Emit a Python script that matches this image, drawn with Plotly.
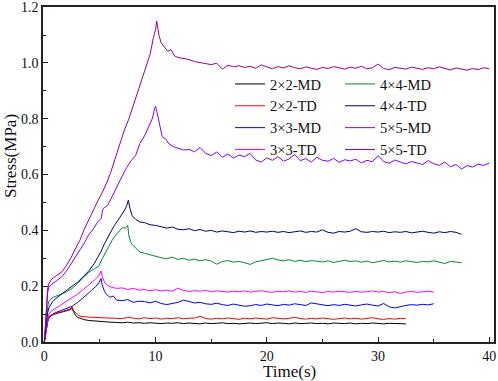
import plotly.graph_objects as go

# ---------------- data ----------------
TAIL_T = [6.5, 7.0, 7.5, 8.0, 8.5, 9.0, 9.5, 10.0, 10.5, 11.0,
          11.5, 12.0, 12.5, 13.0, 13.5, 14.0, 14.5, 15.0, 15.5, 16.0,
          16.5, 17.0, 17.5, 18.0, 18.5, 19.0, 19.5, 20.0, 20.5, 21.0,
          21.5, 22.0, 22.5, 23.0, 23.5, 24.0, 24.5, 25.0, 25.5, 26.0,
          26.5, 27.0, 27.5, 28.0, 28.5, 29.0, 29.5, 30.0, 30.5, 31.0,
          31.5, 32.0, 32.5, 33.0, 33.5, 34.0, 34.5, 35.0, 35.5, 36.0,
          36.5, 37.0, 37.5, 38.0, 38.5, 39.0, 39.5, 40.0]

# 2x2 samples
RISE_T_2 = [0.0, 0.1, 0.2, 0.3, 0.4, 0.6, 0.8, 1.0, 1.3, 1.6,
            1.9, 2.2, 2.4, 2.5, 2.6, 2.8, 3.0, 3.3, 3.6, 4.0,
            4.5, 5.0, 5.5, 6.0]
RISE_2MD = [0.0, 0.03, 0.055, 0.075, 0.088, 0.095, 0.099, 0.101, 0.104, 0.106,
            0.110, 0.114, 0.117, 0.122, 0.110, 0.096, 0.088, 0.083, 0.080, 0.077,
            0.075, 0.073, 0.072, 0.071]
TAIL_2MD = [0.070, 0.069, 0.071, 0.068, 0.069, 0.067, 0.069, 0.068, 0.066, 0.068,
            0.067, 0.069, 0.066, 0.068, 0.067, 0.065, 0.068, 0.066, 0.067, 0.069,
            0.066, 0.067, 0.065, 0.067, 0.068, 0.066, 0.067, 0.069, 0.066, 0.068,
            0.067, 0.065, 0.068, 0.066, 0.067, 0.068, 0.066, 0.067, 0.065, 0.068,
            0.067, 0.066, 0.068, 0.065, 0.067, 0.066, 0.068, 0.066, 0.065, 0.067,
            0.066, 0.067, 0.065]
RISE_2TD = [0.0, 0.035, 0.06, 0.078, 0.09, 0.097, 0.100, 0.103, 0.106, 0.109,
            0.113, 0.117, 0.120, 0.126, 0.115, 0.104, 0.097, 0.092, 0.090, 0.089,
            0.088, 0.087, 0.086, 0.087]
TAIL_2TD = [0.086, 0.084, 0.088, 0.085, 0.083, 0.087, 0.084, 0.086, 0.082, 0.085,
            0.084, 0.087, 0.083, 0.085, 0.086, 0.092, 0.084, 0.082, 0.085, 0.083,
            0.086, 0.084, 0.081, 0.085, 0.083, 0.086, 0.084, 0.082, 0.087, 0.084,
            0.083, 0.085, 0.088, 0.084, 0.082, 0.085, 0.083, 0.086, 0.084, 0.081,
            0.084, 0.086, 0.083, 0.085, 0.082, 0.084, 0.087, 0.083, 0.081, 0.084,
            0.082, 0.085, 0.083]

# 3x3 samples
RISE_T_3 = [0.0, 0.1, 0.2, 0.3, 0.4, 0.6, 0.8, 1.0, 1.3, 1.6,
            2.0, 2.5, 3.0, 3.5, 4.0, 4.3, 4.6, 4.9, 5.1, 5.2,
            5.4, 5.6, 5.9, 6.2, 6.5, 7.0, 7.5, 8.0, 8.5]
RISE_3MD = [0.0, 0.03, 0.055, 0.072, 0.085, 0.095, 0.101, 0.105, 0.110, 0.114,
            0.120, 0.128, 0.142, 0.158, 0.176, 0.188, 0.198, 0.212, 0.228, 0.205,
            0.182, 0.170, 0.160, 0.165, 0.150, 0.148, 0.152, 0.142, 0.146]
TAIL_3MD = [0.145, 0.140, 0.146, 0.138, 0.134, 0.138, 0.142, 0.150, 0.146, 0.140,
            0.142, 0.137, 0.135, 0.139, 0.134, 0.131, 0.136, 0.133, 0.128, 0.130,
            0.134, 0.131, 0.136, 0.133, 0.130, 0.135, 0.132, 0.137, 0.134, 0.131,
            0.140, 0.136, 0.133, 0.130, 0.134, 0.131, 0.135, 0.132, 0.129, 0.133,
            0.136, 0.132, 0.129, 0.138, 0.126, 0.122, 0.127, 0.131, 0.134, 0.132,
            0.135, 0.133, 0.137]
RISE_3TD = [0.0, 0.03, 0.06, 0.085, 0.100, 0.110, 0.116, 0.121, 0.128, 0.136,
            0.146, 0.158, 0.172, 0.188, 0.205, 0.212, 0.225, 0.238, 0.255, 0.235,
            0.215, 0.205, 0.198, 0.195, 0.192, 0.194, 0.188, 0.192, 0.186]
TAIL_3TD = [0.188, 0.184, 0.187, 0.183, 0.186, 0.182, 0.193, 0.185, 0.181, 0.184,
            0.182, 0.185, 0.180, 0.183, 0.181, 0.179, 0.182, 0.180, 0.183, 0.179,
            0.181, 0.184, 0.180, 0.178, 0.182, 0.180, 0.183, 0.179, 0.181, 0.178,
            0.182, 0.180, 0.177, 0.181, 0.179, 0.182, 0.180, 0.178, 0.181, 0.179,
            0.180, 0.183, 0.179, 0.181, 0.177, 0.180, 0.174, 0.179, 0.181, 0.178,
            0.180, 0.182, 0.179]

# 4x4 samples
RISE_T_4MD = [0.0, 0.1, 0.2, 0.3, 0.4, 0.6, 0.8, 1.0, 1.5, 2.0,
              2.5, 3.0, 3.5, 4.0, 4.5, 4.9, 5.2, 5.5, 5.8, 6.1,
              6.4, 6.7, 7.0, 7.3, 7.5, 7.6, 7.8, 8.0, 8.3, 8.6,
              9.0, 9.5]
RISE_4MD = [0.0, 0.05, 0.095, 0.125, 0.145, 0.155, 0.160, 0.163, 0.172, 0.180,
            0.192, 0.210, 0.232, 0.250, 0.262, 0.272, 0.298, 0.322, 0.345, 0.365,
            0.382, 0.395, 0.410, 0.408, 0.418, 0.380, 0.355, 0.345, 0.332, 0.322,
            0.318, 0.312]
TAIL_4MD = [0.308, 0.302, 0.298, 0.304, 0.296, 0.300, 0.293, 0.297, 0.291, 0.295,
            0.290, 0.279, 0.288, 0.292, 0.286, 0.289, 0.284, 0.278, 0.287, 0.291,
            0.296, 0.300, 0.294, 0.291, 0.295, 0.289, 0.293, 0.288, 0.292, 0.290,
            0.287, 0.291, 0.285, 0.289, 0.293, 0.288, 0.291, 0.286, 0.290, 0.284,
            0.289, 0.292, 0.287, 0.290, 0.286, 0.291, 0.288, 0.285, 0.289, 0.287,
            0.291, 0.286, 0.281, 0.289, 0.287, 0.284]
RISE_T_4TD = [0.0, 0.1, 0.2, 0.3, 0.4, 0.6, 0.8, 1.0, 1.5, 2.0,
              2.5, 3.0, 3.5, 4.0, 4.5, 4.8, 5.1, 5.4, 5.7, 6.0,
              6.3, 6.6, 6.9, 7.2, 7.4, 7.55, 7.7, 7.9, 8.2, 8.6,
              9.0, 9.5]
RISE_4TD = [0.0, 0.04, 0.08, 0.105, 0.122, 0.138, 0.148, 0.155, 0.170, 0.185,
            0.200, 0.215, 0.234, 0.255, 0.282, 0.302, 0.325, 0.352, 0.375, 0.398,
            0.418, 0.435, 0.452, 0.472, 0.488, 0.508, 0.478, 0.452, 0.440, 0.430,
            0.428, 0.420]
TAIL_4TD = [0.418, 0.412, 0.408, 0.412, 0.404, 0.402, 0.406, 0.399, 0.403, 0.397,
            0.400, 0.394, 0.398, 0.395, 0.392, 0.397, 0.394, 0.398, 0.393, 0.396,
            0.394, 0.397, 0.393, 0.396, 0.392, 0.395, 0.398, 0.393, 0.396, 0.394,
            0.402, 0.393, 0.390, 0.396, 0.394, 0.397, 0.406, 0.395, 0.393, 0.396,
            0.394, 0.397, 0.392, 0.395, 0.393, 0.396, 0.391, 0.394, 0.397, 0.393,
            0.390, 0.395, 0.392, 0.396, 0.393, 0.386]

# 5x5 samples
RISE_T_5MD = [0.0, 0.1, 0.2, 0.3, 0.4, 0.6, 0.8, 1.0, 1.3, 1.6,
              2.0, 2.4, 2.8, 3.2, 3.6, 4.0, 4.4, 4.8, 5.1, 5.25,
              5.4, 5.7, 6.0, 6.3, 6.6, 7.0, 7.4, 7.8, 8.2, 8.6,
              9.0, 9.4, 9.7, 9.9, 10.0, 10.2, 10.4, 10.6, 10.9, 11.2,
              11.6, 12.0, 12.5]
RISE_5MD = [0.0, 0.07, 0.14, 0.178, 0.195, 0.205, 0.212, 0.216, 0.224, 0.235,
            0.255, 0.280, 0.305, 0.330, 0.355, 0.385, 0.405, 0.430, 0.442, 0.475,
            0.482, 0.490, 0.515, 0.535, 0.565, 0.595, 0.625, 0.650, 0.668, 0.712,
            0.738, 0.770, 0.800, 0.835, 0.845, 0.810, 0.772, 0.735, 0.728, 0.710,
            0.700, 0.695, 0.688]
TAIL_5MD = [0.690, 0.682, 0.697, 0.676, 0.668, 0.681, 0.662, 0.674, 0.659, 0.670,
            0.664, 0.676, 0.652, 0.645, 0.660, 0.651, 0.664, 0.648, 0.656, 0.672,
            0.650, 0.657, 0.645, 0.662, 0.651, 0.648, 0.658, 0.644, 0.653, 0.649,
            0.655, 0.642, 0.651, 0.646, 0.668, 0.647, 0.641, 0.652, 0.645, 0.638,
            0.647, 0.641, 0.636, 0.650, 0.639, 0.633, 0.645, 0.628, 0.636, 0.620,
            0.632, 0.627, 0.637, 0.633, 0.641]
RISE_T_5TD = [0.0, 0.1, 0.2, 0.3, 0.4, 0.6, 0.8, 1.0, 1.3, 1.6,
              2.0, 2.4, 2.8, 3.2, 3.6, 4.0, 4.4, 4.8, 5.2, 5.6,
              6.0, 6.4, 6.8, 7.2, 7.6, 8.0, 8.4, 8.8, 9.2, 9.5,
              9.8, 10.0, 10.1, 10.3, 10.5, 10.8, 11.1, 11.4, 11.7, 12.0,
              12.5]
RISE_5TD = [0.0, 0.08, 0.15, 0.19, 0.208, 0.222, 0.230, 0.236, 0.242, 0.252,
            0.275, 0.302, 0.335, 0.365, 0.405, 0.440, 0.475, 0.505, 0.535, 0.570,
            0.612, 0.660, 0.715, 0.760, 0.800, 0.850, 0.895, 0.945, 0.995, 1.030,
            1.090, 1.120, 1.150, 1.100, 1.072, 1.055, 1.042, 1.048, 1.025, 1.020,
            1.016]
TAIL_5TD = [1.012, 1.005, 1.002, 0.998, 0.994, 0.999, 0.978, 0.992, 0.986, 0.990,
            0.984, 0.988, 0.981, 0.993, 0.985, 0.979, 0.987, 0.982, 0.990, 0.983,
            0.979, 0.986, 0.981, 0.977, 0.984, 0.980, 0.987, 0.982, 0.978, 0.985,
            0.981, 0.988, 0.979, 0.983, 0.996, 0.980, 0.976, 0.984, 0.981, 0.978,
            0.985, 0.980, 0.977, 0.983, 0.979, 0.986, 0.981, 0.975, 0.982, 0.978,
            0.974, 0.980, 0.976, 0.983, 0.979]

NAMES = ["2×2-MD", "2×2-TD", "3×3-MD", "3×3-TD", "4×4-MD", "4×4-TD", "5×5-MD", "5×5-TD"]
COLORS = ["#000000", "#FF0000", "#0000FF", "#FF00FF", "#008C30", "#000080", "#8000FF", "#A00082"]
TAIL_START = [6.5, 6.5, 9.0, 9.0, 10.0, 10.0, 13.0, 13.0]
RISE_T = [RISE_T_2, RISE_T_2, RISE_T_3, RISE_T_3, RISE_T_4MD, RISE_T_4TD, RISE_T_5MD, RISE_T_5TD]
RISE_V = [RISE_2MD, RISE_2TD, RISE_3MD, RISE_3TD, RISE_4MD, RISE_4TD, RISE_5MD, RISE_5TD]
TAIL_V = [TAIL_2MD, TAIL_2TD, TAIL_3MD, TAIL_3TD, TAIL_4MD, TAIL_4TD, TAIL_5MD, TAIL_5TD]

FONT = "Liberation Serif"

fig = go.Figure()
for i, name in enumerate(NAMES):
    i0 = TAIL_T.index(TAIL_START[i])
    tail_t = TAIL_T[i0:i0 + len(TAIL_V[i])]
    x = list(RISE_T[i]) + list(tail_t)
    y = list(RISE_V[i]) + list(TAIL_V[i][:len(tail_t)])
    fig.add_trace(go.Scatter(
        x=x, y=y, mode="lines", name=name,
        line=dict(color=COLORS[i], width=1),
        legend="legend" if name[0] in "23" else "legend2",
    ))

axis_common = dict(
    showline=True, linecolor="#222222", linewidth=1.5, mirror=True,
    ticks="inside", ticklen=5, tickwidth=1.2, tickcolor="#222222",
    showgrid=False, zeroline=False,
    tickfont=dict(family=FONT, size=14, color="#111111"),
)

fig.update_xaxes(range=[-0.12, 40.42], tickvals=[0, 10, 20, 30, 40],
                 minor=dict(ticks="inside", ticklen=3, tickwidth=1.2, tickcolor="#222222",
                            tickvals=[5, 15, 25, 35]),
                 **axis_common)
fig.update_yaxes(range=[0, 1.2005], tickvals=[0, 0.2, 0.4, 0.6, 0.8, 1.0, 1.2],
                 tickformat=".1f",
                 minor=dict(ticks="inside", ticklen=3, tickwidth=1.2, tickcolor="#222222",
                            tickvals=[0.1, 0.3, 0.5, 0.7, 0.9, 1.1]),
                 **axis_common)

LEG_TOP = 68
leg_common = dict(
    font=dict(family=FONT, size=14.5, color="#111111"),
    bgcolor="rgba(0,0,0,0)", borderwidth=0,
    xanchor="left", yanchor="top", tracegroupgap=0,
    orientation="v",
)
fig.update_layout(
    width=498, height=381,
    margin=dict(l=43, r=4, t=7, b=39, autoexpand=False),
    paper_bgcolor="white", plot_bgcolor="white",
    showlegend=True,
    legend=dict(x=(230 - 43) / 451, y=(342 - LEG_TOP) / 335, **leg_common),
    legend2=dict(x=(340 - 43) / 451, y=(342 - LEG_TOP) / 335, **leg_common),
    annotations=[
        dict(text="Time(s)", xref="paper", yref="paper",
             x=(289 - 43) / 451, y=(342 - 371) / 335, xanchor="center", yanchor="middle",
             showarrow=False, font=dict(family=FONT, size=17, color="#111111")),
        dict(text="Stress(MPa)", xref="paper", yref="paper", textangle=-90,
             x=(10 - 43) / 451, y=(342 - 156) / 335, xanchor="center", yanchor="middle",
             showarrow=False, font=dict(family=FONT, size=17, color="#111111")),
    ],
)

fig.write_html("out.html", config={"displayModeBar": False},
               post_script="document.body.style.margin='0px';")
